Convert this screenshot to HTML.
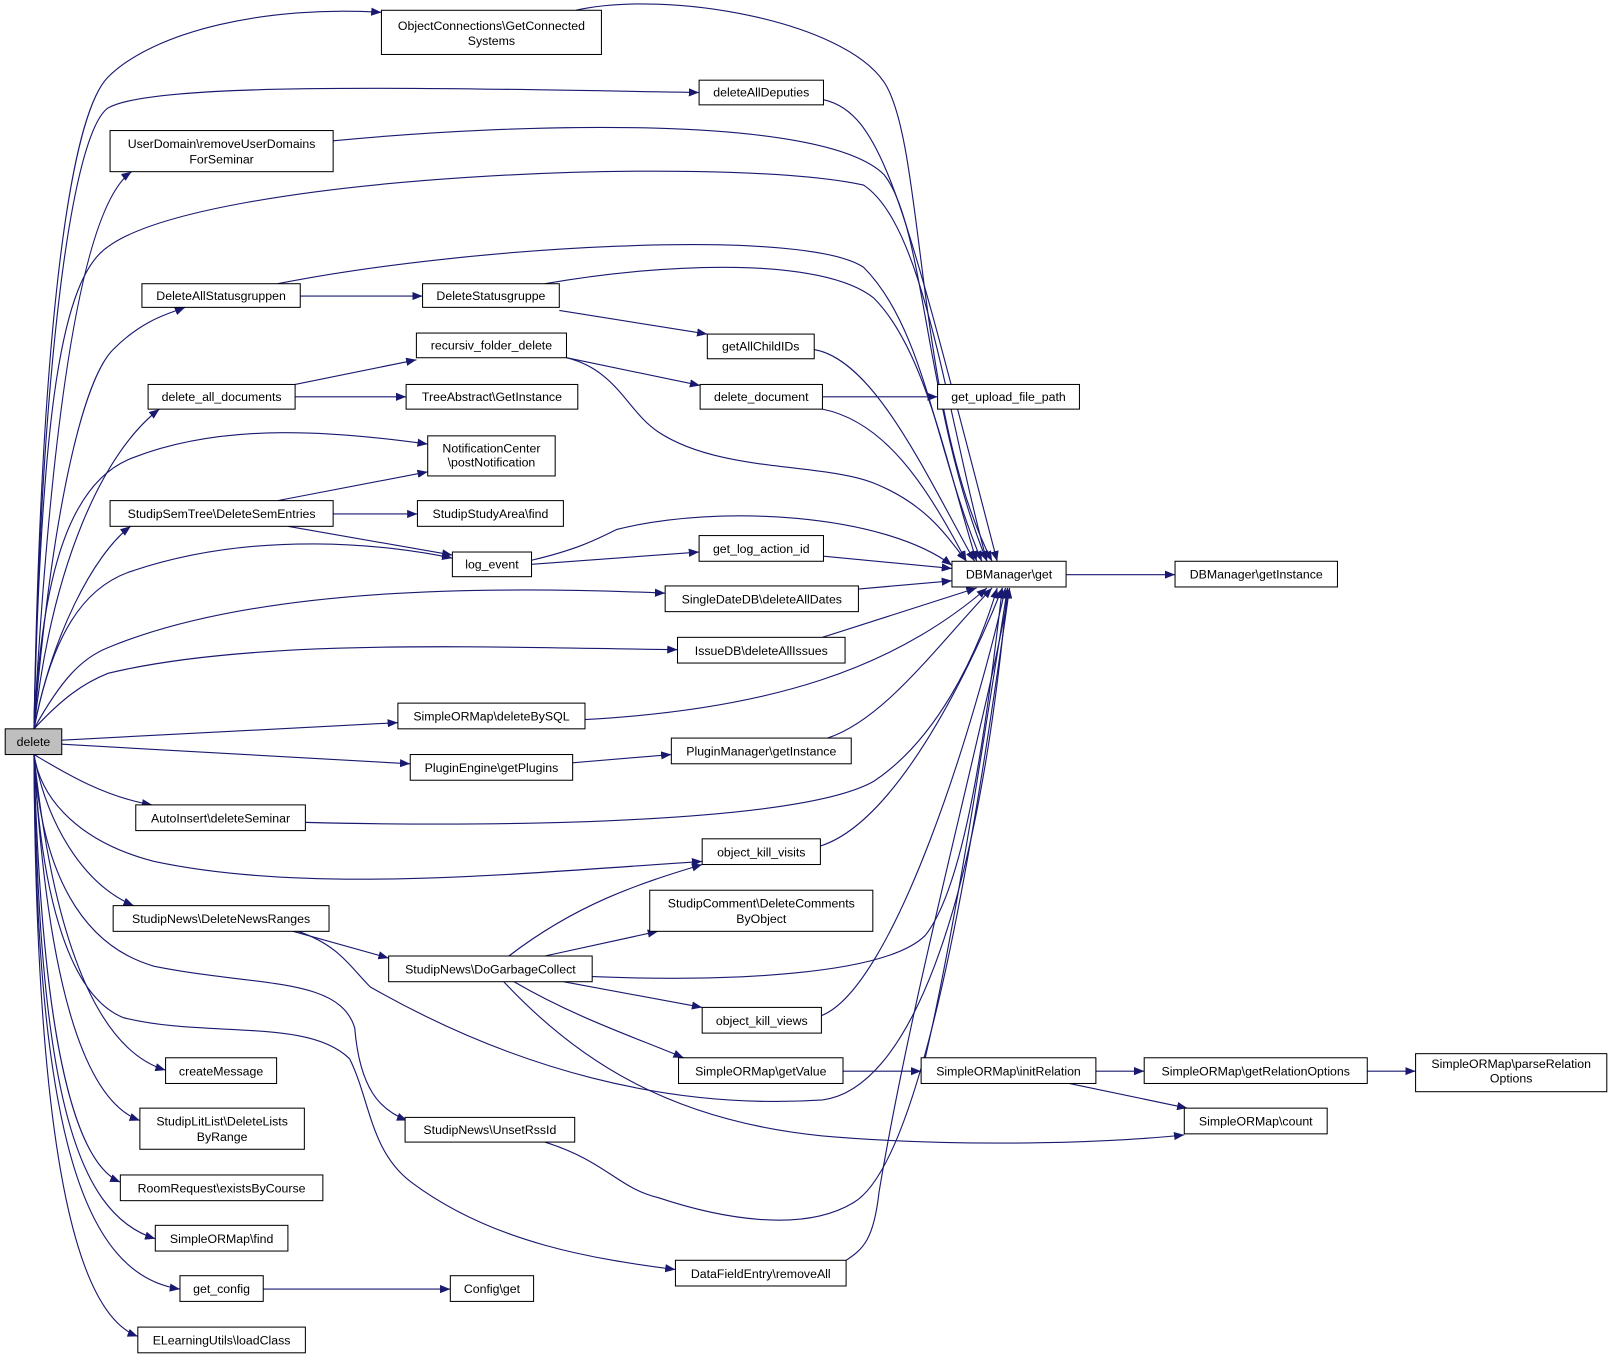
<!DOCTYPE html>
<html><head><meta charset="utf-8"><style>
html,body{margin:0;padding:0;background:#fff;}
svg{display:block;}
text{font-family:"Liberation Sans",sans-serif;font-size:12px;fill:#000;}
.e{fill:none;stroke:#191970;stroke-width:1.1;}
.n{fill:#fff;stroke:#000;stroke-width:1;}
</style></head><body>
<svg width="1612" height="1360" viewBox="0 0 1568 1323" xmlns="http://www.w3.org/2000/svg">
<defs><marker id="a" viewBox="0 0 10 8" refX="10" refY="4" markerWidth="10" markerHeight="8" markerUnits="userSpaceOnUse" orient="auto"><path d="M0,0 L10,4 L0,8 z" fill="#191970"/></marker></defs>
<g class="e" marker-end="url(#a)">
<path d="M33,709 C40,300 70,110 105,75 C150,30 260,5 371,12"/>
<path d="M33,709 C40,350 70,130 105,105 C150,80 400,85 680,90"/>
<path d="M33,709 C50,400 80,200 128,167"/>
<path d="M33,709 C40,400 60,270 105,240 C200,170 700,150 840,180 C900,220 920,400 960,546"/>
<path d="M33,709 C50,500 80,370 110,340 C140,310 165,305 180,299"/>
<path d="M33,709 C50,550 100,440 155,398"/>
<path d="M33,709 C40,580 60,470 130,445 C220,410 330,420 416,432"/>
<path d="M33,709 C50,620 90,540 127,512"/>
<path d="M33,709 C50,620 80,570 130,555 C250,515 380,530 440,543"/>
<path d="M33,709 C60,660 80,640 105,630 C250,570 480,570 647,577"/>
<path d="M33,709 C60,680 80,665 105,655 C250,620 480,630 659,632"/>
<path d="M60,720 L387,703"/>
<path d="M60,724 L399,743"/>
<path d="M33,734 C60,750 100,775 148,783"/>
<path d="M33,734 C40,780 80,820 150,838 C300,870 500,850 683,838"/>
<path d="M33,734 C45,800 80,860 130,881"/>
<path d="M33,734 C40,850 80,920 150,940 C250,960 330,950 345,1000 C350,1060 370,1080 396,1090"/>
<path d="M33,734 C40,880 70,970 120,990 C200,1010 300,990 340,1030 C360,1070 360,1120 400,1150 C480,1210 580,1225 657,1235"/>
<path d="M33,734 C50,900 90,1020 161,1041"/>
<path d="M33,734 C45,950 80,1070 136,1090"/>
<path d="M33,734 C40,1000 70,1130 117,1150"/>
<path d="M33,734 C38,1050 70,1180 151,1205"/>
<path d="M33,734 C35,1100 80,1240 175,1254"/>
<path d="M33,734 C35,1150 80,1280 134,1300"/>
<path d="M560,10 C650,-10 820,20 860,80 C900,140 890,400 965,546"/>
<path d="M801,97 C860,110 880,200 970,546"/>
<path d="M324,137 C500,120 800,110 860,170 C900,220 900,400 960,546"/>
<path d="M270,276 C450,240 780,220 840,260 C900,320 910,440 955,546"/>
<path d="M292,288 L411,288"/>
<path d="M530,276 C650,255 800,250 850,290 C900,340 920,450 950,546"/>
<path d="M544,302 L688,325"/>
<path d="M792,340 C850,350 900,460 948,546"/>
<path d="M287,374 L405,350"/>
<path d="M287,386 L395,386"/>
<path d="M551,348 L681,375"/>
<path d="M551,348 C600,360 610,400 640,420 C700,460 800,450 850,470 C900,490 920,520 940,546"/>
<path d="M800,386 L912,386"/>
<path d="M800,398 C860,410 900,470 940,546"/>
<path d="M270,487 L416,459"/>
<path d="M324,500 L406,500"/>
<path d="M280,512 L440,540"/>
<path d="M517,545 C560,535 580,525 600,515 C700,490 860,500 926,550"/>
<path d="M517,549 L680,537"/>
<path d="M801,541 L926,553"/>
<path d="M1037,559 L1143,559"/>
<path d="M835,573 L926,565"/>
<path d="M800,620 L950,572"/>
<path d="M569,700 C750,690 870,650 960,572"/>
<path d="M557,742 L653,734"/>
<path d="M805,718 C860,700 910,630 965,572"/>
<path d="M297,800 C500,805 780,800 850,760 C910,720 950,640 970,572"/>
<path d="M798,823 C870,800 940,660 975,572"/>
<path d="M495,930 C560,880 620,860 683,841"/>
<path d="M530,930 L640,906"/>
<path d="M576,950 C700,955 860,950 900,910 C940,860 960,700 975,572"/>
<path d="M548,955 L683,980"/>
<path d="M500,955 C560,990 620,1010 665,1029"/>
<path d="M490,955 C560,1030 650,1090 800,1105 C950,1118 1100,1110 1152,1104"/>
<path d="M285,906 L378,932"/>
<path d="M290,906 C330,920 340,940 360,960 C500,1040 650,1080 800,1070 C880,1060 950,900 980,572"/>
<path d="M799,988 C870,960 950,700 978,572"/>
<path d="M820,1042 L896,1042"/>
<path d="M1066,1042 L1113,1042"/>
<path d="M1040,1054 L1155,1078"/>
<path d="M900,1029 C930,900 960,700 980,572"/>
<path d="M1330,1042 L1377,1042"/>
<path d="M530,1111 C590,1130 600,1155 640,1165 C700,1185 780,1200 830,1170 C900,1130 950,800 982,572"/>
<path d="M823,1226 C840,1215 850,1205 855,1160 C890,950 960,700 982,572"/>
<path d="M256,1254 L438,1254"/>
</g>
<g>
<rect x="5" y="709" width="55" height="25" fill="#bfbfbf" stroke="#000"/><text x="32.5" y="725.5" text-anchor="middle">delete</text>
</g>
<g text-anchor="middle">
<rect class="n" x="371" y="10" width="214" height="43"/><text x="478" y="29">ObjectConnections\GetConnected</text><text x="478" y="44">Systems</text>
<rect class="n" x="680" y="78" width="121" height="24"/><text x="740.5" y="94">deleteAllDeputies</text>
<rect class="n" x="107" y="127" width="217" height="40"/><text x="215.5" y="144">UserDomain\removeUserDomains</text><text x="215.5" y="159">ForSeminar</text>
<rect class="n" x="138" y="276" width="154" height="23"/><text x="215" y="292">DeleteAllStatusgruppen</text>
<rect class="n" x="411" y="276" width="133" height="23"/><text x="477.5" y="292">DeleteStatusgruppe</text>
<rect class="n" x="688" y="325" width="104" height="24"/><text x="740" y="341">getAllChildIDs</text>
<rect class="n" x="405" y="324" width="146" height="24"/><text x="478" y="340">recursiv_folder_delete</text>
<rect class="n" x="144" y="374" width="143" height="24"/><text x="215.5" y="390">delete_all_documents</text>
<rect class="n" x="395" y="374" width="167" height="24"/><text x="478.5" y="390">TreeAbstract\GetInstance</text>
<rect class="n" x="681" y="374" width="119" height="24"/><text x="740.5" y="390">delete_document</text>
<rect class="n" x="912" y="374" width="138" height="24"/><text x="981" y="390">get_upload_file_path</text>
<rect class="n" x="416" y="424" width="124" height="39"/><text x="478" y="440">NotificationCenter</text><text x="478" y="454">\postNotification</text>
<rect class="n" x="107" y="487" width="217" height="25"/><text x="215.5" y="504">StudipSemTree\DeleteSemEntries</text>
<rect class="n" x="406" y="487" width="142" height="25"/><text x="477" y="504">StudipStudyArea\find</text>
<rect class="n" x="440" y="537" width="77" height="24"/><text x="478.5" y="553">log_event</text>
<rect class="n" x="680" y="521" width="121" height="25"/><text x="740.5" y="538">get_log_action_id</text>
<rect class="n" x="926" y="546" width="111" height="25"/><text x="981.5" y="563">DBManager\get</text>
<rect class="n" x="1143" y="546" width="158" height="25"/><text x="1222" y="563">DBManager\getInstance</text>
<rect class="n" x="647" y="570" width="188" height="25"/><text x="741" y="587">SingleDateDB\deleteAllDates</text>
<rect class="n" x="659" y="620" width="163" height="25"/><text x="740.5" y="637">IssueDB\deleteAllIssues</text>
<rect class="n" x="387" y="684" width="182" height="25"/><text x="478" y="701">SimpleORMap\deleteBySQL</text>
<rect class="n" x="399" y="734" width="158" height="25"/><text x="478" y="751">PluginEngine\getPlugins</text>
<rect class="n" x="653" y="718" width="175" height="25"/><text x="740.5" y="735">PluginManager\getInstance</text>
<rect class="n" x="132" y="783" width="165" height="25"/><text x="214.5" y="800">AutoInsert\deleteSeminar</text>
<rect class="n" x="683" y="816" width="115" height="25"/><text x="740.5" y="833">object_kill_visits</text>
<rect class="n" x="632" y="866" width="217" height="40"/><text x="740.5" y="883">StudipComment\DeleteComments</text><text x="740.5" y="898">ByObject</text>
<rect class="n" x="110" y="881" width="210" height="25"/><text x="215" y="898">StudipNews\DeleteNewsRanges</text>
<rect class="n" x="378" y="930" width="198" height="25"/><text x="477" y="947">StudipNews\DoGarbageCollect</text>
<rect class="n" x="683" y="980" width="116" height="25"/><text x="741" y="997">object_kill_views</text>
<rect class="n" x="660" y="1029" width="160" height="25"/><text x="740" y="1046">SimpleORMap\getValue</text>
<rect class="n" x="896" y="1029" width="170" height="25"/><text x="981" y="1046">SimpleORMap\initRelation</text>
<rect class="n" x="1113" y="1029" width="217" height="25"/><text x="1221.5" y="1046">SimpleORMap\getRelationOptions</text>
<rect class="n" x="1377" y="1025" width="186" height="37"/><text x="1470" y="1039">SimpleORMap\parseRelation</text><text x="1470" y="1053">Options</text>
<rect class="n" x="1152" y="1078" width="139" height="25"/><text x="1221.5" y="1095">SimpleORMap\count</text>
<rect class="n" x="161" y="1029" width="108" height="25"/><text x="215" y="1046">createMessage</text>
<rect class="n" x="136" y="1078" width="160" height="40"/><text x="216" y="1095">StudipLitList\DeleteLists</text><text x="216" y="1110">ByRange</text>
<rect class="n" x="394" y="1087" width="165" height="24"/><text x="476.5" y="1103">StudipNews\UnsetRssId</text>
<rect class="n" x="117" y="1143" width="197" height="25"/><text x="215.5" y="1160">RoomRequest\existsByCourse</text>
<rect class="n" x="151" y="1192" width="129" height="25"/><text x="215.5" y="1209">SimpleORMap\find</text>
<rect class="n" x="175" y="1241" width="81" height="25"/><text x="215.5" y="1258">get_config</text>
<rect class="n" x="438" y="1241" width="81" height="25"/><text x="478.5" y="1258">Config\get</text>
<rect class="n" x="657" y="1226" width="166" height="25"/><text x="740" y="1243">DataFieldEntry\removeAll</text>
<rect class="n" x="134" y="1291" width="163" height="25"/><text x="215.5" y="1308">ELearningUtils\loadClass</text>
</g>
</svg>
</body></html>
